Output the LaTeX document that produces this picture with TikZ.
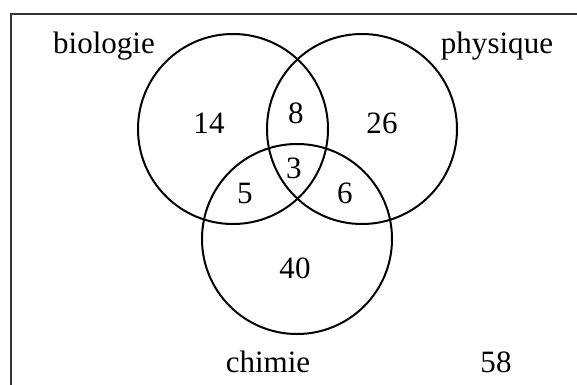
\documentclass[tikz,border=0pt]{standalone}
\usepackage{fontspec}
\setmainfont{Liberation Serif}
\begin{document}
\begin{tikzpicture}[x=0.03cm,y=-0.03cm,
  ensemble/.style={draw,circle,line width=0.6mm,minimum size=5.7cm,inner sep=0pt},
  etiq/.style={anchor=base,inner sep=0pt,font=\fontsize{26.5}{30}\selectfont}]
  \useasboundingbox (0,0) rectangle (577,384);
  \clip (0,0) rectangle (577,384);
  % cadre (univers)
  \draw[line width=0.6mm,black!80] (11,14) rectangle (582,392);
  % les trois ensembles
  \node[ensemble] (bio) at (233,129) {};
  \node[ensemble] (phys) at (362,129) {};
  \node[ensemble] (chim) at (297,239) {};
  % noms
  \node[etiq] (nbio) at (104,53) {biologie};
  \node[etiq] (nphys) at (497,53) {physique};
  \node[etiq] (nchim) at (268,372) {chimie};
  % effectifs
  \node[etiq] (b) at (209,133) {14};
  \node[etiq] (bp) at (296,123) {8};
  \node[etiq] (p) at (382,133) {26};
  \node[etiq] (bpc) at (294,178) {3};
  \node[etiq] (bc) at (245,203) {5};
  \node[etiq] (pc) at (345,203) {6};
  \node[etiq] (c) at (295,278) {40};
  \node[etiq] (hors) at (496,372) {58};
\end{tikzpicture}
\end{document}
